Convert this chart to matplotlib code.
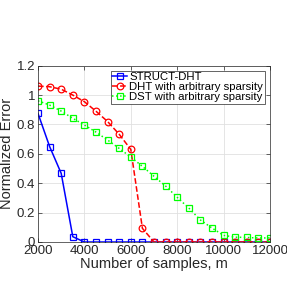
import matplotlib.pyplot as plt

m = [2000, 2500, 3000, 3500, 4000, 4500, 5000, 5500, 6000, 6500, 7000,
     7500, 8000, 8500, 9000, 9500, 10000, 10500, 11000, 11500, 12000]

err_struct = [0.875, 0.65, 0.467, 0.036, 0, 0, 0, 0, 0, 0, 0,
              0, 0, 0, 0, 0, 0, 0, 0, 0, 0]
err_dht = [1.061, 1.057, 1.04, 1.0, 0.955, 0.89, 0.82, 0.733, 0.63, 0.093, 0,
           0, 0, 0, 0, 0, 0, 0, 0, 0, 0]
err_dst = [0.961, 0.932, 0.891, 0.842, 0.796, 0.748, 0.694, 0.637, 0.578, 0.515, 0.447,
           0.381, 0.304, 0.231, 0.15, 0.095, 0.045, 0.033, 0.031, 0.027, 0.028]

plt.rcParams['font.family'] = ['Liberation Sans', 'DejaVu Sans']

fig = plt.figure(figsize=(2.87, 2.83), dpi=100)
ax = fig.add_axes([38 / 287, 1 - 242 / 283, 232 / 287, 176.3 / 283])

ax.plot(m, err_struct, '-s', color='#0000ff', lw=1.1, ms=4.2, mfc='none', mew=0.9,
        label='STRUCT-DHT')
ax.plot(m, err_dht, '--o', color='#ff0000', lw=1.1, ms=4.8, mfc='none', mew=0.9,
        label='DHT with arbitrary sparsity')
ax.plot(m, err_dst, ':s', color='#00ff00', lw=1.1, ms=4.2, mfc='none', mew=0.9,
        label='DST with arbitrary sparsity')

ax.set_xlim(2000, 12000)
ax.set_ylim(0, 1.2)
ax.set_xticks([2000, 4000, 6000, 8000, 10000, 12000])
ax.set_yticks([0, 0.2, 0.4, 0.6, 0.8, 1.0, 1.2])
ax.set_yticklabels(['0', '0.2', '0.4', '0.6', '0.8', '1', '1.2'])
ax.grid(True, color='#e0e0e0', lw=0.6)
ax.set_axisbelow(True)
ax.tick_params(direction='in', top=True, right=True, labelsize=9.5, length=3,
               width=0.5, colors='#262626', pad=2)
for s in ax.spines.values():
    s.set_color('#262626')
    s.set_linewidth(0.5)

ax.set_xlabel('Number of samples, m', fontsize=10.5, color='#262626', labelpad=0)
ax.set_ylabel('Normalized Error', fontsize=10.5, color='#262626', labelpad=2)

leg = ax.legend(loc='upper right', bbox_to_anchor=(0.977, 0.972), fontsize=8.2,
                handlelength=1.3, handletextpad=0.2, borderpad=0.12, labelspacing=0.02,
                borderaxespad=0, fancybox=False, framealpha=1, edgecolor='#262626')
leg.get_frame().set_linewidth(0.5)

fig.savefig('out.png', dpi=100)
